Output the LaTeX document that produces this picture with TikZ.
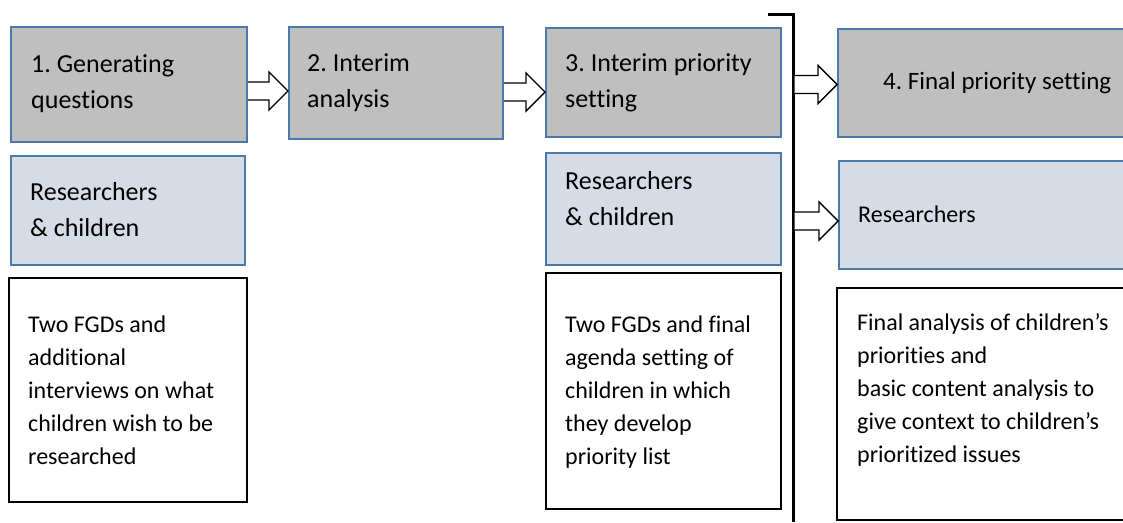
\documentclass[tikz,border=0pt]{standalone}
\usepackage{fontspec}
\setmainfont[Ligatures={NoCommon}]{Carlito}
\usetikzlibrary{calc}
\definecolor{boxblue}{HTML}{4A7AAB}
\definecolor{stepgray}{HTML}{BFBFBF}
\definecolor{lightblue}{HTML}{D5DCE6}
\tikzset{
  box/.style={draw, line width=2pt, rectangle, anchor=north west, inner sep=0pt},
  stepbox/.style={box, draw=boxblue, fill=stepgray},
  whobox/.style={box, draw=boxblue, fill=lightblue},
  notebox/.style={box, draw=black, fill=white},
  bigtxt/.style={anchor=west, align=left, inner sep=0pt, font=\fontsize{26}{36}\selectfont},
  smalltxt/.style={anchor=west, align=left, inner sep=0pt, font=\fontsize{24}{33}\selectfont},
  arrowline/.style={draw=black, line width=1.4pt, fill=white, line join=miter},
  bar/.style={draw=black, line width=3pt}
}
\newcommand\hollowarrow[2]{%
  \path[arrowline] let \p1=(#1), \p2=(#2) in
    (\x1,\y1+9pt) -- (\x2-19pt,\y1+9pt) -- (\x2-19pt,\y1+19pt) -- (\x2,\y1)
    -- (\x2-19pt,\y1-19pt) -- (\x2-19pt,\y1-9pt) -- (\x1,\y1-9pt);}
\begin{document}
\frenchspacing
\begin{tikzpicture}[x=1pt,y=-1pt]
\useasboundingbox (0,0) rectangle (1123,522);
% step boxes
\node[stepbox, minimum width=236pt, minimum height=115pt] (b1) at (10,26) {};
\node[stepbox, minimum width=214pt, minimum height=112pt] (b2) at (288,26) {};
\node[stepbox, minimum width=235pt, minimum height=109pt] (b3) at (545,27) {};
\node[stepbox, minimum width=300pt, minimum height=108pt] (b4) at (837,28) {};
% who boxes
\node[whobox, minimum width=234pt, minimum height=109pt] (w1) at (10,155) {};
\node[whobox, minimum width=235pt, minimum height=112pt] (w3) at (545,152) {};
\node[whobox, minimum width=300pt, minimum height=108pt] (w4) at (838,160) {};
% note boxes
\node[notebox, minimum width=238pt, minimum height=224pt] (n1) at (8,277) {};
\node[notebox, minimum width=235pt, minimum height=236pt] (n3) at (545,272) {};
\node[notebox, minimum width=300pt, minimum height=232pt] (n4) at (836,287) {};
% texts
\node[bigtxt] (t1) at (31,84) {1. Generating\\questions};
\node[bigtxt] (t2) at (307,83) {2. Interim\\analysis};
\node[bigtxt] (t3) at (565,82.5) {3. Interim priority\\setting};
\node[smalltxt, font=\fontsize{25}{33}\selectfont] (t4) at (883,83) {4. Final priority setting};
\node[bigtxt] (tw1) at (30,210) {Researchers\\\& children};
\node[bigtxt] (tw3) at (565,198.5) {Researchers\\\& children};
\node[smalltxt] (tw4) at (858,214) {Researchers};
\node[smalltxt] (tn1) at (28,390) {Two FGDs and\\additional\\interviews on what\\children wish to be\\researched};
\node[smalltxt] (tn3) at (565,392) {Two FGDs and final\\agenda setting of\\children in which\\they develop\\priority list};
\node[smalltxt] (tn4) at (857,389.5) {Final analysis of children’s\\priorities and\\basic content analysis to\\give context to children’s\\prioritized issues};
% divider
\coordinate (tick) at (768,14.5);
\coordinate (vtop) at (793,14.5);
\coordinate (vbot) at (793,522);
\draw[bar] (tick) -- (vtop) -- (vbot);
% arrows
\coordinate (a1s) at (b1.east |- 0,91);
\coordinate (a1e) at (b2.west |- 0,91);
\coordinate (a2s) at (b2.east |- 0,92);
\coordinate (a2e) at (b3.west |- 0,92);
\coordinate (a3s) at (794.5,84.5);
\coordinate (a3e) at (b4.west |- 0,84.5);
\coordinate (a4s) at (794.5,221);
\coordinate (a4e) at (w4.west |- 0,221);
\hollowarrow{a1s}{a1e}
\hollowarrow{a2s}{a2e}
\hollowarrow{a3s}{a3e}
\hollowarrow{a4s}{a4e}
\end{tikzpicture}
\end{document}
